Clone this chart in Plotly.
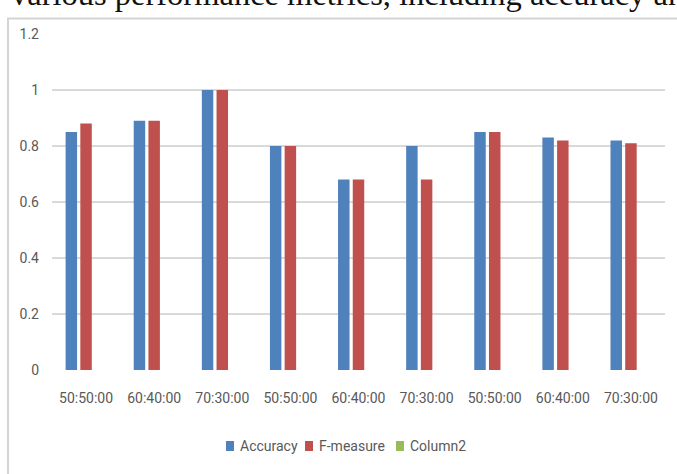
import plotly.graph_objects as go

# Train/test split ratios shown along the x axis
split_labels = ["50:50:00", "60:40:00", "70:30:00",
                "50:50:00", "60:40:00", "70:30:00",
                "50:50:00", "60:40:00", "70:30:00"]

accuracy = [0.85, 0.89, 1.00, 0.80, 0.68, 0.80, 0.85, 0.83, 0.82]
f_measure = [0.88, 0.89, 1.00, 0.80, 0.68, 0.68, 0.85, 0.82, 0.81]
column2 = [None, None, None, None, None, None, None, None, None]

series_names = ["Accuracy", "F-measure", "Column2"]
series_values = [accuracy, f_measure, column2]
series_colors = ["#4F81BD", "#C0504D", "#9BBB59"]

y_ticks = [0, 0.2, 0.4, 0.6, 0.8, 1.0, 1.2]
y_tick_text = ["0", "0.2", "0.4", "0.6", "0.8", "1", "1.2"]

W, H = 677, 474
ML, MR, MT, MB = 52, 12, 34, 104
PW, PH = W - ML - MR, H - MT - MB


def px_x(p):
    return (p - ML) / PW


def px_y(p):
    return (H - MB - p) / PH


positions = list(range(len(split_labels)))

fig = go.Figure()
for name, vals, color in zip(series_names, series_values, series_colors):
    fig.add_trace(go.Bar(
        x=positions, y=vals, name=name,
        marker=dict(color=color, line=dict(width=0)),
        showlegend=False,
    ))

tick_font = dict(family="Liberation Sans Narrow, Arial Narrow, Roboto, sans-serif",
                 size=14, color="#595959")

fig.update_layout(
    width=W, height=H,
    margin=dict(l=ML, r=MR, t=MT, b=MB, pad=0),
    paper_bgcolor="white", plot_bgcolor="white",
    barmode="group", bargap=0.352, bargroupgap=0.22,
    xaxis=dict(
        range=[-0.5, len(split_labels) - 0.5],
        tickvals=positions, ticktext=split_labels,
        showgrid=False, zeroline=False, showline=False,
        ticks="", tickfont=tick_font, ticklabelstandoff=18,
    ),
    yaxis=dict(
        range=[0, 1.2], tickvals=y_ticks, ticktext=y_tick_text,
        showgrid=True, gridcolor="#d9d9d9", gridwidth=1.5,
        zeroline=False, showline=False, ticks="",
        tickfont=tick_font, ticklabelstandoff=12,
    ),
)

shapes = []
annotations = []

# Chart frame (left and top edges)
frame_color = "#d4d4d4"
shapes.append(dict(type="line", xref="paper", yref="paper",
                   x0=px_x(8), x1=px_x(8), y0=px_y(18), y1=px_y(H + 5),
                   line=dict(color=frame_color, width=2)))
shapes.append(dict(type="line", xref="paper", yref="paper",
                   x0=px_x(7), x1=px_x(W + 5), y0=px_y(18.5), y1=px_y(18.5),
                   line=dict(color=frame_color, width=2)))

# Legend drawn as swatches with labels
legend_y = 446
legend_x = [226, 305, 396]
for name, color, lx in zip(series_names, series_colors, legend_x):
    shapes.append(dict(type="rect", xref="paper", yref="paper",
                       x0=px_x(lx), x1=px_x(lx + 8),
                       y0=px_y(legend_y + 5), y1=px_y(legend_y - 5),
                       fillcolor=color, line=dict(width=0)))
    annotations.append(dict(text=name, xref="paper", yref="paper",
                            x=px_x(lx + 12), y=px_y(legend_y),
                            xanchor="left", yanchor="middle",
                            showarrow=False, font=tick_font))

# Running text line of the surrounding page
annotations.append(dict(
    text="various performance metrics, including accuracy and",
    xref="paper", yref="paper", x=px_x(9), y=px_y(-6),
    xanchor="left", yanchor="middle", showarrow=False,
    font=dict(family="Liberation Serif, Times New Roman, serif", size=32.5, color="#111111"),
))

fig.update_layout(shapes=shapes, annotations=annotations)

fig.write_html("out.html")
